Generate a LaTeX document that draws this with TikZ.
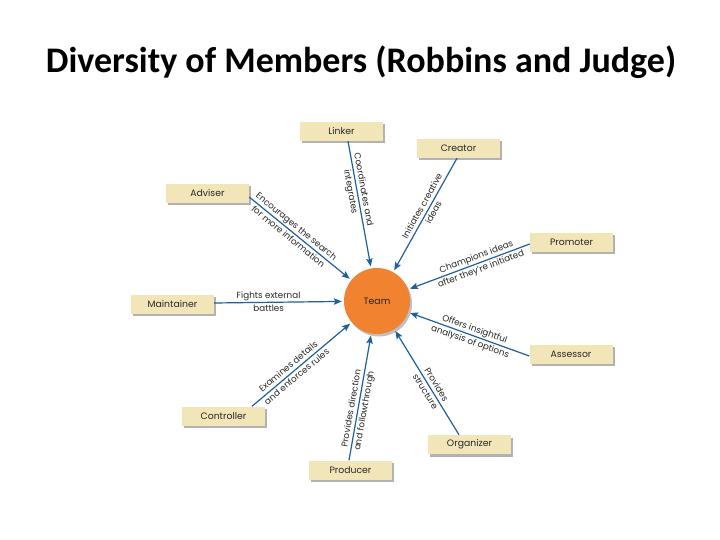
\documentclass[tikz,border=0pt]{standalone}
\usepackage{fontspec}
\setmainfont{Poppins}
\newfontfamily\titlefont{Carlito}
\usetikzlibrary{arrows.meta,shadows}
\definecolor{boxfill}{RGB}{242,230,184}
\definecolor{teamorange}{RGB}{240,130,48}
\definecolor{arrblue}{RGB}{30,96,156}
\definecolor{txt}{RGB}{40,40,40}
\newcommand{\twoline}[2]{\strut #1\\\strut #2}
\begin{document}
\begin{tikzpicture}[x=1pt,y=-1pt,
  role/.style={fill=boxfill, minimum width=83pt, minimum height=19pt, inner sep=0pt,
    font=\fontsize{9.3}{11}\selectfont, text=txt,
    drop shadow={shadow xshift=2pt, shadow yshift=-2.5pt, fill=black, opacity=0.3}},
  arr/.style={draw=arrblue, line width=1.2pt, -{Stealth[length=8pt,width=6.5pt,inset=1.5pt]}, shorten >=2pt},
  lbl/.style={sloped, font=\fontsize{8.8}{13}\selectfont, inner sep=0pt, align=center, text=txt},
]
\fill[white] (0,0) rectangle (720,540);
\useasboundingbox (0,0) rectangle (720,540);

\node[font=\titlefont\bfseries\fontsize{36}{42}\selectfont, anchor=base] (title) at (361,73) {Diversity of Members (Robbins and Judge)};

\node[circle, fill=teamorange, minimum size=66pt, inner sep=0pt, font=\fontsize{9.3}{11}\selectfont, text=txt,
  drop shadow={shadow xshift=2pt, shadow yshift=-2.5pt, fill=black, opacity=0.25}] (team) at (377,301) {Team};

\node[role] (linker) at (341.5,131.5) {Linker};
\node[role] (creator) at (458.5,148.5) {Creator};
\node[role] (adviser) at (207.5,193.5) {Adviser};
\node[role] (promoter) at (571.5,242) {Promoter};
\node[role] (maintainer) at (172.5,304) {Maintainer};
\node[role] (assessor) at (571,354) {Assessor};
\node[role] (controller) at (223.5,416) {Controller};
\node[role] (producer) at (350.5,470) {Producer};
\node[role] (organizer) at (469.5,444.5) {Organizer};

\draw[arr] ([xshift=6.5pt]linker.south) -- (team)
  node[lbl, pos=0.39] (l1) {\twoline{Coordinates and}{integrates}};
\draw[arr] ([xshift=-1.5pt]creator.south) -- (team)
  node[lbl, pos=0.45] (l2) {\twoline{Initiates creative}{ideas}};
\draw[arr] ([yshift=-3.5pt]adviser.east) -- (team)
  node[lbl, pos=0.42] (l3) {\twoline{Encourages the search}{for more information}};
\draw[arr] ([yshift=-2pt]promoter.west) -- (team)
  node[lbl, pos=0.42] (l4) {\twoline{Champions ideas}{after they're initiated}};
\draw[arr] ([yshift=1pt]maintainer.east) -- (team)
  node[lbl, pos=0.42] (l5) {\twoline{Fights external}{battles}};
\draw[arr] ([yshift=-2pt]assessor.west) -- (team)
  node[lbl, pos=0.47] (l6) {\twoline{Offers insightful}{analysis of options}};
\draw[arr] ([xshift=-10.5pt]organizer.north) -- (team)
  node[lbl, pos=0.44] (l7) {\twoline{Provides}{structure}};
\draw[arr] ([xshift=-1.5pt]producer.north) -- (team)
  node[lbl, pos=0.40] (l8) {\twoline{Provides direction}{and followthrough}};
\draw[arr] ([xshift=28.5pt]controller.north) -- (team)
  node[lbl, pos=0.41] (l9) {\twoline{Examines details}{and enforces rules}};
\end{tikzpicture}
\end{document}
